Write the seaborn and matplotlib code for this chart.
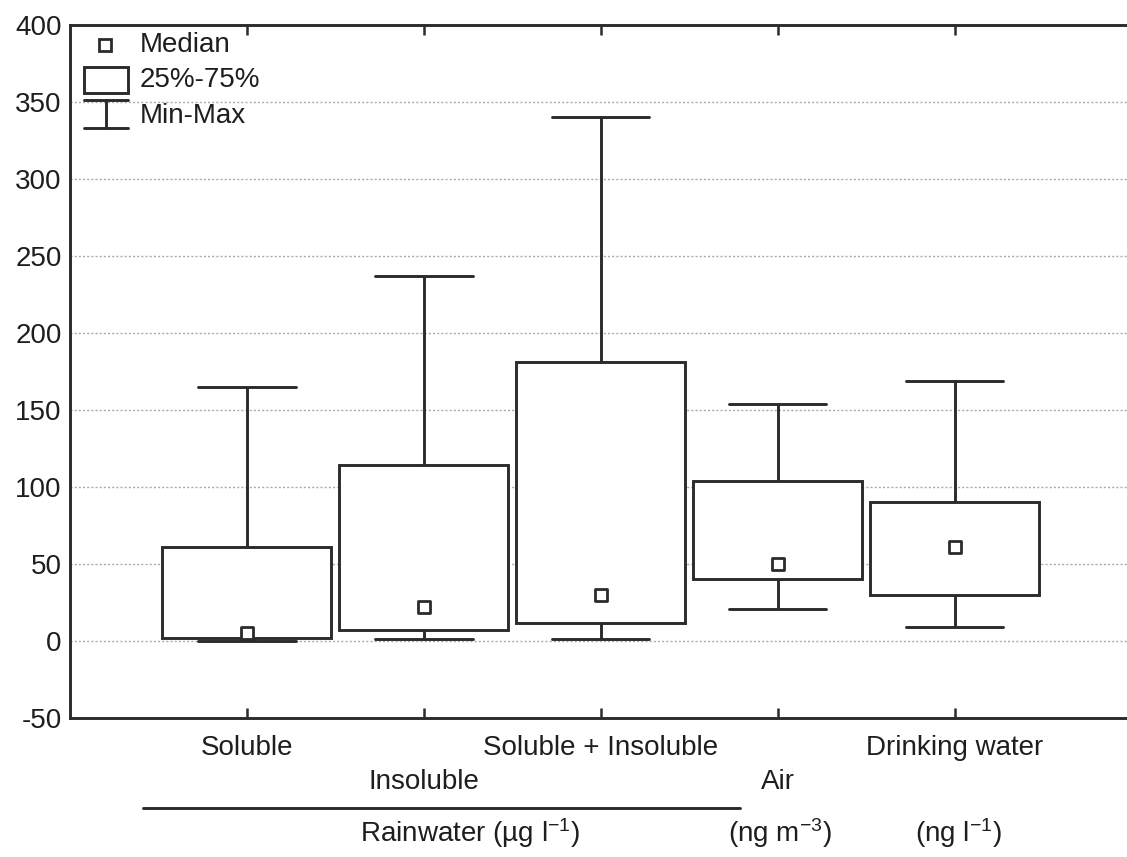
import pandas as pd
import seaborn as sns
import matplotlib.pyplot as plt
import matplotlib.transforms as mtransforms
from matplotlib.patches import Rectangle

# summary values
categories = ["Soluble", "Insoluble", "Soluble + Insoluble", "Air", "Drinking water"]
mins = [0, 1, 1, 21, 9]
q1 = [2, 7, 12, 40, 30]
medians = [5, 22, 30, 50, 61]
q3 = [61, 114, 181, 104, 90]
maxs = [165, 237, 340, 154, 169]

label_row = [0, 1, 0, 1, 0]
unit_labels = ["Rainwater (µg l$^{-1}$)", "(ng m$^{-3}$)", "(ng l$^{-1}$)"]
unit_x = [1.26, 3.01, 4.02]

# five points per group -> quartiles hit q1/q3 exactly, whis (0,100) gives min-max
rows = []
for i, c in enumerate(categories):
    for v in [mins[i], q1[i], medians[i], q3[i], maxs[i]]:
        rows.append({"group": c, "value": v})
df = pd.DataFrame(rows)
med_df = pd.DataFrame({"group": categories, "value": medians})

sns.set_style("white")
plt.rcParams["font.family"] = ["Liberation Sans", "DejaVu Sans"]
plt.rcParams["axes.unicode_minus"] = False
plt.rcParams["mathtext.fontset"] = "custom"
plt.rcParams["mathtext.rm"] = "Liberation Sans"
plt.rcParams["mathtext.default"] = "rm"

ink = "#2b2b2b"
txt = "#1e1e1e"
fs = 20
lw = 2.1
fig = plt.figure(figsize=(11.27, 8.57), dpi=100)
ax = fig.add_axes([0.0621, 0.1622, 0.942, 0.8086])

sns.boxplot(data=df, x="group", y="value", order=categories, whis=(0, 100),
            width=0.955, color="white", linecolor=ink, linewidth=lw,
            medianprops={"visible": False}, capwidths=0.55, ax=ax)
sns.stripplot(data=med_df, x="group", y="value", order=categories, jitter=False,
              marker="s", size=8.5, color="white", edgecolor=ink, linewidth=2.0,
              zorder=5, ax=ax)

ax.set_xlim(-1, 5)
ax.set_ylim(-50, 400)
ax.set_yticks(range(-50, 401, 50))
ax.yaxis.grid(True, linestyle=(0, (1.5, 1.5)), color="#aaaaaa", linewidth=1.0)
ax.set_axisbelow(True)
ax.set_xlabel("")
ax.set_ylabel("")
ax.set_xticks(range(len(categories)))
ax.set_xticklabels([])
ax.tick_params(axis="x", direction="in", length=7, width=1.8, color=ink,
               top=True, bottom=True)
ax.tick_params(axis="y", direction="out", length=4, width=1.8, color=ink,
               labelsize=fs, labelcolor=txt, pad=2)
for s in ["left", "top", "bottom"]:
    ax.spines[s].set_color(ink)
    ax.spines[s].set_linewidth(lw)
ax.spines["right"].set_visible(False)

# staggered category labels and units under the axis
tr = mtransforms.blended_transform_factory(ax.transData, ax.transAxes)
for i, c in enumerate(categories):
    y = -0.0433 if label_row[i] == 0 else -0.0924
    ax.text(i, y, c, transform=tr, ha="center", va="center", fontsize=fs, color=txt)
ax.plot([-0.588, 2.785], [-0.130, -0.130], transform=tr, color=ink, lw=lw, clip_on=False)
for x, t in zip(unit_x, unit_labels):
    ax.text(x, -0.166, t, transform=tr, ha="center", va="center", fontsize=fs, color=txt)

# legend drawn by hand
ta = ax.transAxes
ax.plot([0.033], [0.971], marker="s", ms=8.5, mfc="white", mec=ink, mew=2.0,
        transform=ta, clip_on=False)
ax.text(0.066, 0.971, "Median", transform=ta, va="center", fontsize=fs, color=txt)
ax.add_patch(Rectangle((0.0132, 0.902), 0.0414, 0.037, transform=ta, fill=False,
                       edgecolor=ink, lw=lw))
ax.text(0.066, 0.921, "25%-75%", transform=ta, va="center", fontsize=fs, color=txt)
ax.plot([0.0132, 0.0546], [0.892, 0.892], transform=ta, color=ink, lw=lw)
ax.plot([0.0132, 0.0546], [0.851, 0.851], transform=ta, color=ink, lw=lw)
ax.plot([0.034, 0.034], [0.851, 0.892], transform=ta, color=ink, lw=lw)
ax.text(0.066, 0.869, "Min-Max", transform=ta, va="center", fontsize=fs, color=txt)

plt.savefig("out.png", dpi=100)
